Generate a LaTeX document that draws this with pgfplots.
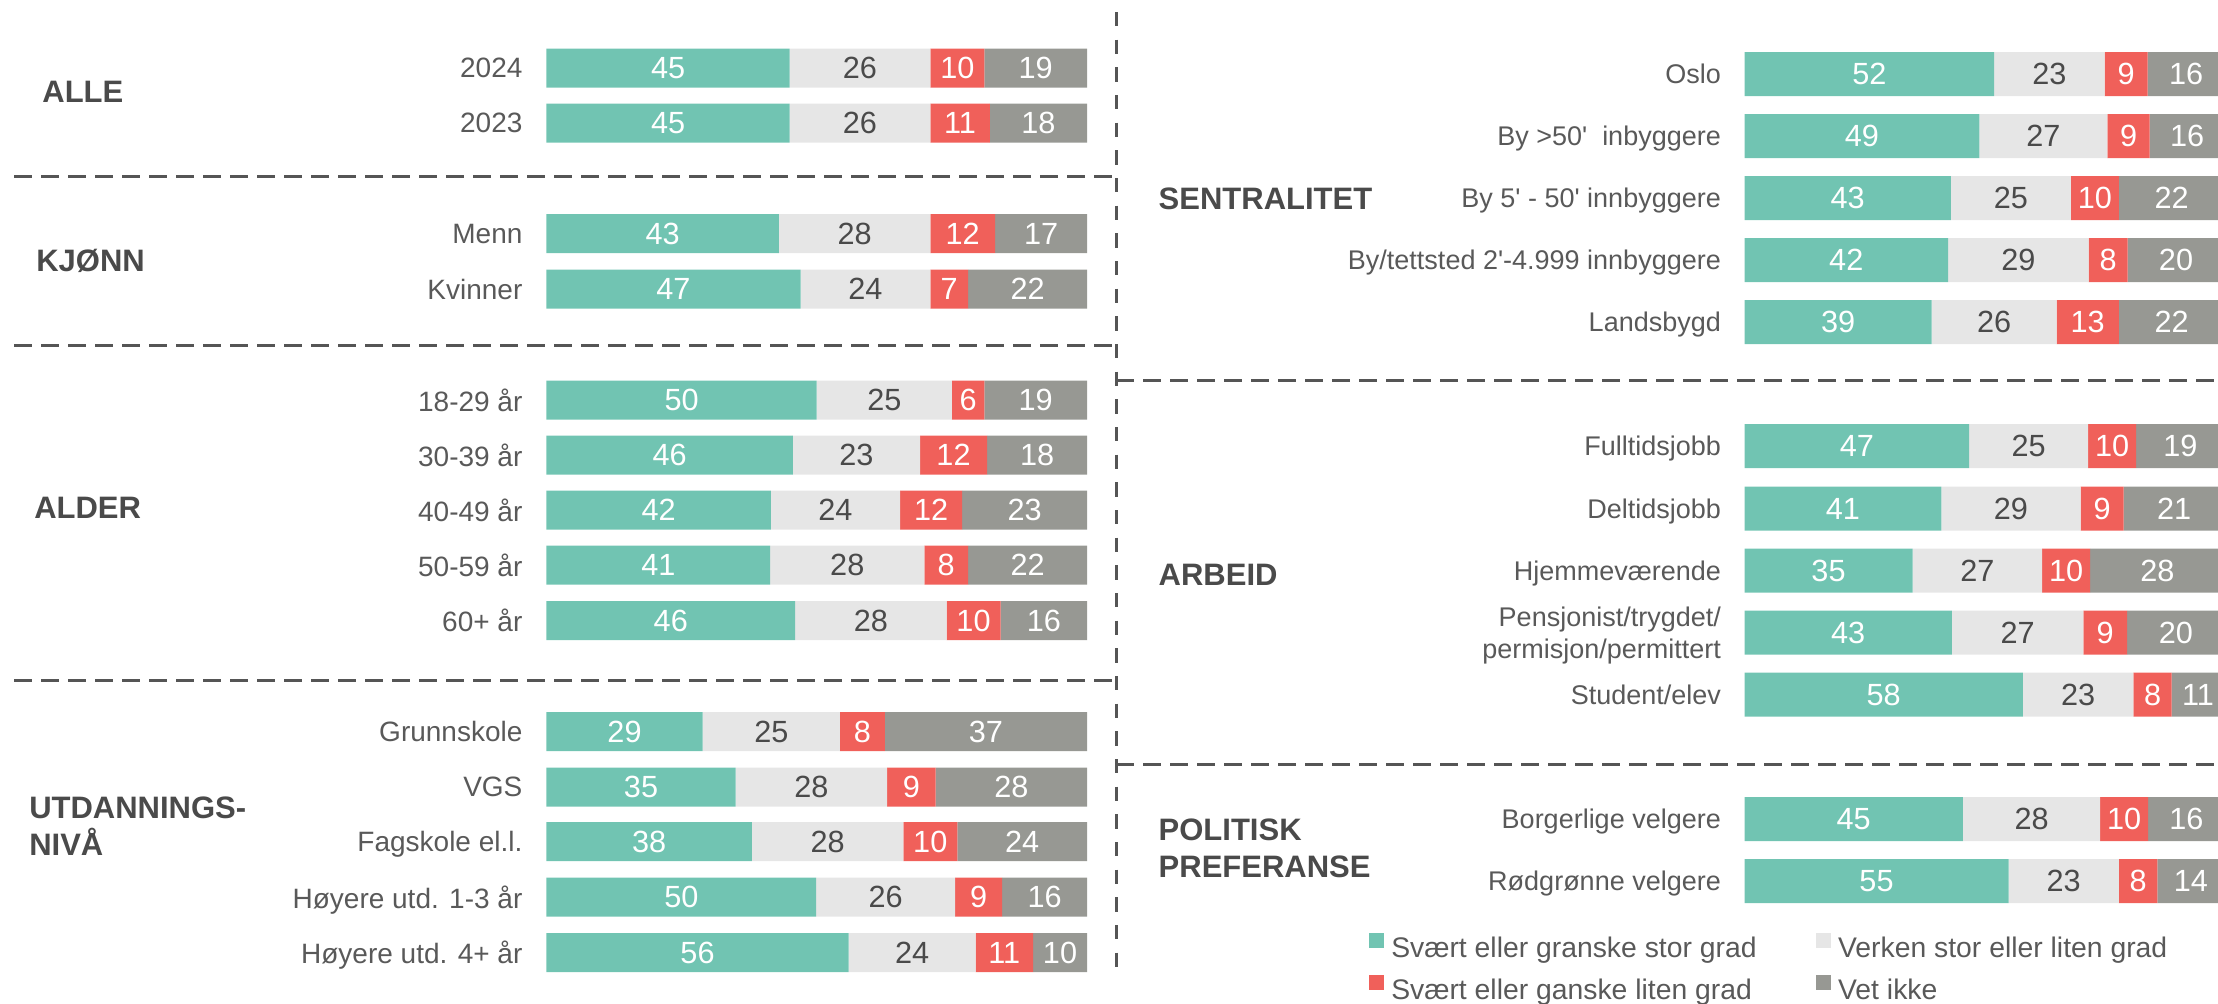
\documentclass[border=0pt]{standalone}
\usepackage{pgfplots}
\pgfplotsset{compat=1.18}
\usepackage{pgfplotstable}
\usepackage{fontspec}
\setmainfont{Liberation Sans}
\newfontfamily\nolig{Liberation Sans}
\definecolor{cteal}{HTML}{71C4B2}
\definecolor{clight}{HTML}{E6E6E6}
\definecolor{cred}{HTML}{F0605A}
\definecolor{cdark}{HTML}{979893}
\definecolor{ctxt}{HTML}{595959}
\definecolor{ctitle}{HTML}{4A4A4A}
\definecolor{cline}{HTML}{555555}

\pgfplotstableread{
pos A B C D a b c d
68 45 26 10 19 45 26 10 19
123 45 26 11 18 45 26 11 18
233.5 43 28 12 17 43 28 12 17
289 47 24 7 22 47 24 7 22
400 50 25 6 19 50 25 6 19
455 45.6 23.5 12.4 18.5 46 23 12 18
510 41.5 23.9 11.5 23.1 42 24 12 23
565 41.4 28.5 8.1 22.0 41 28 8 22
620.5 46 28 10 16 46 28 10 16
731.5 28.9 25.4 8.3 37.4 29 25 8 37
787 35 28 9 28 35 28 9 28
841.5 38 28 10 24 38 28 10 24
897 49.9 25.7 8.7 15.7 50 26 9 16
952.5 55.9 23.5 10.6 10.0 56 24 11 10
}\lefttab

\pgfplotstableread{
pos A B C D a b c d
74 52 23 9 16 52 23 9 16
136 48.9 26.7 8.8 15.6 49 27 9 16
198 43 25 10 22 43 25 10 22
260 42.4 29.3 8.1 20.2 42 29 8 20
322 39 26 13 22 39 26 13 22
446 46.8 24.8 10.0 18.4 47 25 10 19
508.7 41 29 9 21 41 29 9 21
570.7 35 27 10 28 35 27 10 28
632.7 43.2 27.4 9.1 20.3 43 27 9 20
694.7 58 23 8 11 58 23 8 11
819 45.5 28.6 10.0 15.9 45 28 10 16
881 55 23 8 14 55 23 8 14
}\righttab

\pgfplotsset{
  legsq/.style={legend image code/.code={\fill[##1] (0pt,0.5pt) rectangle (4.5pt,5pt);}},
  common/.style={
    xbar stacked, scale only axis, anchor=north west, height=300.9pt,
    xmin=0, ymin=0, ymax=1003, y dir=reverse,
    axis line style={draw=none}, major tick length=0pt, xtick=\empty,
    ytick style={draw=none},
    yticklabel style={anchor=east, inner sep=0pt, text depth=0pt, align=right, text=ctxt},
    point meta=explicit,
    nodes near coords={\pgfmathprintnumber{\pgfplotspointmeta}},
    /pgf/number format/assume math mode=true,
    every node near coord/.append style={anchor=center, inner sep=0pt,
      font=\fontsize{9.2}{10}\selectfont},
  },
  segA/.style={fill=cteal, draw=none, legsq,
    every node near coord/.append style={text=white}},
  segB/.style={fill=clight, draw=none, legsq,
    every node near coord/.append style={text=ctitle}},
  segC/.style={fill=cred, draw=none, legsq,
    every node near coord/.append style={text=white}},
  segD/.style={fill=cdark, draw=none, legsq,
    every node near coord/.append style={text=white}},
}

\begin{document}
\begin{tikzpicture}
\useasboundingbox (0,0) rectangle (665.4pt,-300.9pt);

\begin{axis}[common,
  at={(163.92pt,0pt)}, width=162.2pt, xmax=100, bar width=39,
  ytick={68,123,233.5,289,400,455,510,565,620.5,731.5,787,841.5,897,952.5},
  yticklabels={2024,2023,Menn,Kvinner,18-29 år,30-39 år,40-49 år,50-59 år,60+ år,Grunnskole,VGS,Fagskole el.l.,Høyere utd. 1-3 år,Høyere utd. 4+ år},
  yticklabel style={font=\fontsize{8.4}{10}\selectfont, xshift=-7pt},
]
\addplot[segA] table[x=A,y=pos,meta=a]{\lefttab};
\addplot[segB] table[x=B,y=pos,meta=b]{\lefttab};
\addplot[segC] table[x=C,y=pos,meta=c]{\lefttab};
\addplot[segD] table[x=D,y=pos,meta=d]{\lefttab};
\end{axis}

\begin{axis}[common,
  at={(523.35pt,0pt)}, width=144pt, xmax=100, bar width=44,
  ytick={74,136,198,260,322,446,508.7,570.7,632.7,694.7,819,881},
  yticklabels={Oslo,{\nolig By >50'\ \ inbyggere},{\nolig By 5' - 50' innbyggere},{\nolig By/tettsted 2'-4.999 innbyggere},Landsbygd,Fulltidsjobb,Deltidsjobb,Hjemmeværende,{Pensjonist/trygdet/\\permisjon/permittert},Student/elev,Borgerlige velgere,Rødgrønne velgere},
  yticklabel style={font=\fontsize{8.1}{9.5}\selectfont, xshift=-6.9pt},
  legend columns=2,
  legend cell align=left,
  legend style={at={(axis description cs:-0.7817,0.0695)}, anchor=north west,
    draw=none, fill=none, inner sep=0pt, outer sep=0pt,
    font=\fontsize{8.5}{10}\selectfont, text=ctxt, row sep=3.6pt,
    nodes={inner sep=0pt, text height=6.3pt, text depth=1.8pt},
    /tikz/every odd column/.append style={column sep=2.1pt},
    /tikz/every even column/.append style={column sep=17.85pt}},
]
\addplot[segA] table[x=A,y=pos,meta=a]{\righttab};
\addlegendentry{Svært eller granske stor grad}
\addplot[segB] table[x=B,y=pos,meta=b]{\righttab};
\addlegendentry{Verken stor eller liten grad}
\addplot[segC] table[x=C,y=pos,meta=c]{\righttab};
\addlegendentry{Svært eller ganske liten grad}
\addplot[segD] table[x=D,y=pos,meta=d]{\righttab};
\addlegendentry{Vet ikke}
\end{axis}

\begin{scope}[x=0.3pt,y=-0.3pt]
\draw[cline, line width=0.9pt, dash pattern=on 5.4pt off 2.7pt]
  (14,176.7)--(1116.4,176.7)
  (14,345)--(1116.4,345)
  (14,680.7)--(1116.4,680.7)
  (1116.4,380.7)--(2218,380.7)
  (1116.4,764)--(2218,764);
\draw[cline, line width=1.1pt, dash pattern=on 4.3pt off 4pt] (1116.4,12)--(1116.4,978);
\end{scope}

\begin{scope}[x=0.3pt,y=-0.3pt, every node/.style={inner sep=0pt, text depth=0pt, anchor=west, align=left, text=ctitle}]
\node[font=\bfseries\fontsize{9.3}{11.15}\selectfont] at (41.7,91.8) {ALLE};
\node[font=\bfseries\fontsize{9.3}{11.15}\selectfont] at (35.7,260.3) {KJØNN};
\node[font=\bfseries\fontsize{9.3}{11.15}\selectfont] at (33.6,508) {ALDER};
\node[font=\bfseries\fontsize{9.3}{11.15}\selectfont] at (28.6,826.1) {UTDANNINGS-\\NIVÅ};
\node[font=\bfseries\fontsize{9.3}{11.15}\selectfont] at (1158,198.8) {SENTRALITET};
\node[font=\bfseries\fontsize{9.3}{11.15}\selectfont] at (1158,574.7) {ARBEID};
\node[font=\bfseries\fontsize{9.3}{11.3}\selectfont] at (1158,848) {POLITISK\\PREFERANSE};
\end{scope}
\end{tikzpicture}
\end{document}
